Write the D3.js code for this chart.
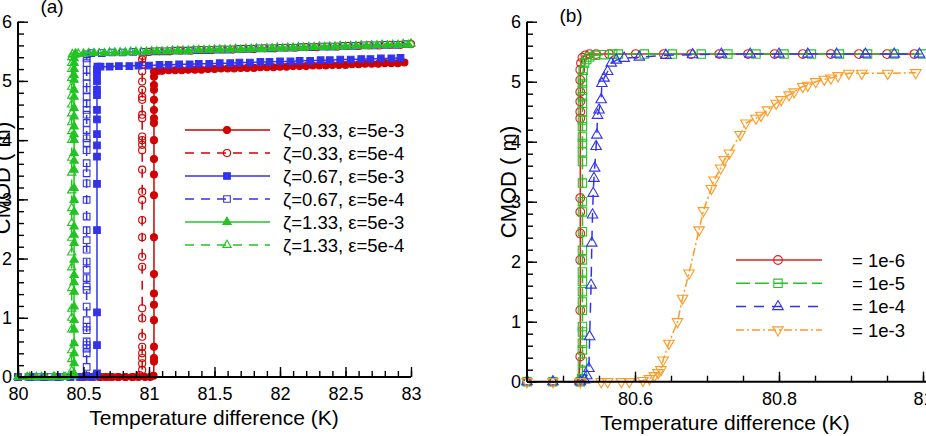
<!DOCTYPE html>
<html>
<head>
<meta charset="utf-8">
<script src="https://d3js.org/d3.v7.min.js"></script>
<style>
  body { margin: 0; background: #fff; }
  svg { display: block; }
  text { font-family: "Liberation Sans", Arial, sans-serif; fill: #000; }
</style>
</head>
<body>
<div id="chart"></div>
<script>
// - - Panel (a) data: flat part, jump (x, y list), upper branch - -
const a1Flat = [[80,0],[80.1,0],[80.2,0],[80.3,0],[80.4,0],[80.5,0],[80.56,0],[80.62,0],[80.67,0],[80.72,0],[80.77,0],[80.82,0],[80.87,0],[80.92,0],[80.97,0],[81.01,0],[81.035,0.02]];
const a1JumpX = 81.038;
const a1JumpY = [0.26,0.32,0.51,0.96,1.22,1.41,1.74,2.36,3.07,3.42,3.68,4.0,4.29,4.37,4.51,4.68,4.85,4.93,5.07,5.16];
const a1Top = [[81.07,5.17],[81.1,5.17],[81.15,5.18],[81.2,5.18],[81.25,5.18],[81.3,5.19],[81.35,5.19],[81.4,5.19],[81.45,5.2],[81.5,5.2],[81.55,5.21],[81.6,5.21],[81.65,5.21],[81.7,5.22],[81.75,5.22],[81.8,5.22],[81.85,5.23],[81.9,5.23],[81.95,5.23],[82.0,5.24],[82.05,5.24],[82.1,5.25],[82.15,5.25],[82.2,5.25],[82.25,5.26],[82.3,5.26],[82.35,5.26],[82.4,5.27],[82.45,5.27],[82.5,5.27],[82.55,5.28],[82.6,5.28],[82.65,5.29],[82.7,5.29],[82.75,5.29],[82.8,5.3],[82.85,5.3],[82.9,5.3],[82.95,5.31]];

const a2Flat = [[80,0],[80.1,0],[80.2,0],[80.3,0],[80.4,0],[80.5,0],[80.58,0],[80.64,0],[80.7,0],[80.76,0],[80.82,0],[80.88,0],[80.93,0.03]];
const a2JumpX = 80.948;
const a2JumpY = [0.12,0.23,0.32,0.4,0.51,0.68,0.99,1.16,1.86,2.03,2.36,2.65,2.99,3.13,3.5,3.83,3.92,4.0,4.06,4.37,4.43,4.68,4.73,4.85,4.99,5.16,5.27,5.36];
const a2Top = [[80.952,5.42],[81.0,5.49],[81.08,5.5],[81.16,5.5],[81.24,5.51],[81.32,5.51],[81.4,5.52],[81.48,5.52],[81.56,5.53],[81.64,5.53],[81.72,5.54],[81.8,5.54],[81.88,5.55],[81.96,5.55],[82.04,5.56],[82.12,5.56],[82.2,5.57],[82.28,5.57],[82.36,5.58],[82.44,5.58],[82.52,5.59],[82.6,5.59],[82.68,5.6],[82.76,5.6],[82.84,5.61],[82.92,5.61],[83.0,5.62]];

const a3Flat = [[80,0],[80.1,0],[80.2,0],[80.3,0],[80.4,0],[80.48,0],[80.55,0],[80.598,0.02]];
const a3JumpX = 80.603;
const a3JumpY = [0.06,0.54,1.09,2.48,3.26,3.72,3.91,4.1,4.35,4.51,4.76,4.85,4.99,5.1,5.19];
const a3Top = [[80.606,5.24],[80.63,5.24],[80.7,5.24],[80.77,5.25],[80.85,5.25],[80.92,5.26],[81.0,5.26],[81.08,5.27],[81.15,5.27],[81.23,5.28],[81.31,5.28],[81.38,5.29],[81.46,5.29],[81.54,5.3],[81.62,5.3],[81.69,5.31],[81.77,5.31],[81.85,5.32],[81.92,5.32],[82.0,5.33],[82.08,5.33],[82.15,5.34],[82.23,5.34],[82.31,5.35],[82.38,5.35],[82.46,5.36],[82.54,5.36],[82.62,5.37],[82.69,5.37],[82.77,5.38],[82.85,5.38],[82.92,5.39]];

const a4Flat = [[80,0],[80.08,0],[80.16,0],[80.24,0],[80.32,0],[80.4,0],[80.47,0],[80.52,0.02]];
const a4JumpX = 80.524;
const a4JumpY = [0.17,0.4,0.48,0.54,0.6,0.79,0.85,0.96,1.19,1.47,1.53,1.67,1.81,1.95,2.15,2.31,2.48,2.71,2.99,3.27,3.44,3.61,3.83,3.95,4.03,4.17,4.29,4.43,4.51,4.62,4.73,4.85,4.96,5.07,5.19,5.3,5.38];
const a4Top = [[80.526,5.45],[80.56,5.47],[80.64,5.47],[80.72,5.48],[80.8,5.48],[80.88,5.49],[80.96,5.49],[81.04,5.5],[81.12,5.5],[81.2,5.51],[81.28,5.51],[81.36,5.52],[81.44,5.52],[81.52,5.53],[81.6,5.53],[81.68,5.54],[81.76,5.54],[81.84,5.55],[81.92,5.55],[82.0,5.56],[82.08,5.56],[82.16,5.57],[82.24,5.57],[82.32,5.58],[82.4,5.58],[82.48,5.59],[82.56,5.59],[82.64,5.6],[82.72,5.6],[82.8,5.61],[82.88,5.61],[82.96,5.62]];

const a5Flat = [[80,0],[80.07,0],[80.14,0],[80.21,0],[80.28,0],[80.35,0],[80.42,0.02]];
const a5JumpX = 80.428;
const a5JumpY = [0.06,0.23,0.4,0.57,0.8,0.96,1.19,1.44,1.6,1.72,1.98,2.26,2.4,2.54,2.79,2.99,3.19,3.5,3.65,3.78,4.0,4.1,4.23,4.4,4.54,4.73,4.85,5.02,5.1,5.2,5.3,5.38];
const a5Top = [[80.432,5.44],[80.44,5.46],[80.5,5.46],[80.58,5.47],[80.66,5.47],[80.74,5.48],[80.82,5.48],[80.9,5.49],[80.98,5.49],[81.06,5.5],[81.14,5.5],[81.22,5.51],[81.3,5.51],[81.38,5.52],[81.46,5.52],[81.54,5.53],[81.62,5.53],[81.7,5.53],[81.78,5.54],[81.86,5.54],[81.94,5.55],[82.02,5.55],[82.1,5.56],[82.18,5.56],[82.26,5.57],[82.34,5.57],[82.42,5.58],[82.5,5.58],[82.58,5.59],[82.66,5.59],[82.74,5.6],[82.82,5.6],[82.9,5.61],[82.98,5.61]];

const a6Flat = [[80,0],[80.09,0],[80.18,0],[80.27,0],[80.36,0],[80.405,0.03]];
const a6JumpX = 80.41;
const a6JumpY = [0.1,0.3,0.45,0.8,1.0,1.15,1.5,1.85,2.1,2.35,2.6,2.85,3.15,3.45,3.7,4.0,4.15,4.3,4.45,4.6,4.75,4.9,5.05,5.2,5.3,5.4];
const a6Top = [[80.415,5.45],[80.46,5.46],[80.54,5.47],[80.62,5.47],[80.7,5.48],[80.78,5.48],[80.86,5.49],[80.94,5.49],[81.02,5.5],[81.1,5.5],[81.18,5.51],[81.26,5.51],[81.34,5.52],[81.42,5.52],[81.5,5.53],[81.58,5.53],[81.66,5.54],[81.74,5.54],[81.82,5.55],[81.9,5.55],[81.98,5.56],[82.06,5.56],[82.14,5.57],[82.22,5.57],[82.3,5.58],[82.38,5.58],[82.46,5.59],[82.54,5.59],[82.62,5.6],[82.7,5.6],[82.78,5.61],[82.86,5.61],[82.94,5.62],[83.0,5.63]];

const labelsA = ["ζ=0.33, ε=5e-3", "ζ=0.33, ε=5e-4", "ζ=0.67, ε=5e-3", "ζ=0.67, ε=5e-4", "ζ=1.33, ε=5e-3", "ζ=1.33, ε=5e-4"];
const xTicksA = [80, 80.5, 81, 81.5, 82, 82.5, 83];

// - - Panel (b) data - -
const b1 = [[80.45,0],[80.486,0],[80.522,0],[80.524,0.42],[80.524,1.19],[80.524,2.03],[80.524,2.47],[80.524,2.83],[80.524,3.06],[80.524,4.39],[80.524,4.5],[80.524,4.67],[80.524,4.83],[80.524,5.03],[80.524,5.2],[80.525,5.31],[80.527,5.4],[80.531,5.44],[80.537,5.46],[80.546,5.46],[80.564,5.46],[80.601,5.46],[80.64,5.46],[80.678,5.46],[80.717,5.46],[80.757,5.46],[80.794,5.46],[80.833,5.46],[80.872,5.46],[80.911,5.46],[80.95,5.46],[80.988,5.46]];
const b2 = [[80.45,0],[80.486,0],[80.524,0],[80.526,0.05],[80.527,0.17],[80.527,0.33],[80.527,0.53],[80.527,0.64],[80.527,0.83],[80.527,0.92],[80.527,1.19],[80.527,1.33],[80.527,1.5],[80.527,1.67],[80.527,1.83],[80.527,2.03],[80.527,2.19],[80.527,2.5],[80.527,2.83],[80.527,3.0],[80.527,3.31],[80.527,3.67],[80.527,3.83],[80.527,3.97],[80.527,4.08],[80.527,4.25],[80.527,4.36],[80.527,4.5],[80.527,4.64],[80.527,4.75],[80.527,4.86],[80.527,4.97],[80.527,5.08],[80.528,5.19],[80.53,5.31],[80.533,5.37],[80.537,5.41],[80.545,5.44],[80.557,5.45],[80.569,5.46],[80.577,5.46],[80.613,5.46],[80.652,5.46],[80.692,5.46],[80.729,5.46],[80.768,5.46],[80.807,5.46],[80.845,5.46],[80.884,5.46],[80.923,5.46],[80.96,5.46],[80.999,5.46]];
const b3 = [[80.45,0],[80.486,0],[80.524,0],[80.53,0.03],[80.533,0.1],[80.536,0.22],[80.537,0.75],[80.539,1.61],[80.54,2.31],[80.541,2.78],[80.542,3.14],[80.543,3.39],[80.544,3.56],[80.546,3.92],[80.547,4.11],[80.548,4.44],[80.55,4.53],[80.553,4.7],[80.554,4.97],[80.557,5.06],[80.562,5.17],[80.567,5.31],[80.574,5.36],[80.585,5.39],[80.606,5.41],[80.643,5.44],[80.68,5.45],[80.72,5.46],[80.76,5.46],[80.8,5.46],[80.84,5.46],[80.88,5.46],[80.92,5.46],[80.96,5.46],[80.995,5.46]];
const b4 = [[80.45,0],[80.486,0],[80.524,0],[80.553,0],[80.562,0],[80.581,0],[80.592,0],[80.611,0.02],[80.62,0.05],[80.627,0.1],[80.632,0.15],[80.636,0.2],[80.639,0.36],[80.647,0.64],[80.659,1.0],[80.666,1.39],[80.675,1.81],[80.689,2.53],[80.695,2.85],[80.706,3.22],[80.71,3.36],[80.719,3.56],[80.724,3.7],[80.731,3.81],[80.746,4.12],[80.754,4.31],[80.768,4.39],[80.775,4.44],[80.784,4.53],[80.796,4.64],[80.803,4.7],[80.814,4.78],[80.821,4.83],[80.833,4.92],[80.84,4.94],[80.851,5.0],[80.863,5.04],[80.872,5.06],[80.882,5.1],[80.897,5.14],[80.915,5.14],[80.951,5.14],[80.99,5.15]];

const labelsB = ["= 1e-6", "= 1e-5", "= 1e-4", "= 1e-3"];
const xTicksB = [80.6, 80.8, 81];
const yTicks = [0, 1, 2, 3, 4, 5, 6];

// - - Helpers - -
const join = (flat, jx, jy, top) => flat.concat(jy.map(y => [jx, y]), top);

const RED = "#d00000", BLUE = "#3333ee", GREEN = "#22c422", ORANGE = "#ff9a22";

const seriesA = [
    { pts: join(a1Flat, a1JumpX, a1JumpY, a1Top), color: RED, dash: null, shape: "circle", size: 38, filled: true },
    { pts: join(a2Flat, a2JumpX, a2JumpY, a2Top), color: RED, dash: "9,7", shape: "circle", size: 40, filled: false },
    { pts: join(a3Flat, a3JumpX, a3JumpY, a3Top), color: BLUE, dash: null, shape: "square", size: 44, filled: true },
    { pts: join(a4Flat, a4JumpX, a4JumpY, a4Top), color: BLUE, dash: "9,7", shape: "square", size: 44, filled: false },
    { pts: join(a5Flat, a5JumpX, a5JumpY, a5Top), color: GREEN, dash: null, shape: "triangle", size: 30, filled: true },
    { pts: join(a6Flat, a6JumpX, a6JumpY, a6Top), color: GREEN, dash: "9,7", shape: "triangle", size: 30, filled: false }
];

const seriesB = [
    { pts: b1, color: "#dd2222", dash: null, shape: "circle", size: 60, filled: false },
    { pts: b2, color: GREEN, dash: "14,5", shape: "square", size: 70, filled: false },
    { pts: b3, color: BLUE, dash: "10,8", shape: "triangle", size: 48, filled: false },
    { pts: b4, color: ORANGE, dash: "8,3,2,3", shape: "down", size: 48, filled: false }
];

const symbols = { circle: d3.symbolCircle, square: d3.symbolSquare, triangle: d3.symbolTriangle, down: d3.symbolTriangle };

function marker(g, s, x, y) {
    g.append("path")
        .attr("d", d3.symbol(symbols[s.shape], s.size)())
        .attr("transform", `translate(${x},${y})` + (s.shape === "down" ? " rotate(180)" : ""))
        .attr("fill", s.filled ? s.color : "none")
        .attr("stroke", s.color)
        .attr("stroke-width", 1.1);
}

function drawSeries(g, x, y, list) {
    const line = d3.line().x(d => x(d[0])).y(d => y(d[1]));
    list.forEach(s => {
        g.append("path")
            .attr("d", line(s.pts))
            .attr("fill", "none")
            .attr("stroke", s.color)
            .attr("stroke-width", 1.5)
            .attr("stroke-dasharray", s.dash);
        s.pts.forEach(d => marker(g, s, x(d[0]), y(d[1])));
    });
}

function drawAxes(g, x, y, xTicks, xMinor, xEnd, xPad) {
    // minor ticks
    g.append("g").attr("transform", `translate(0,${y(0)})`)
        .call(d3.axisBottom(x).tickValues(xMinor).tickSize(-6).tickSizeOuter(0).tickFormat(""));
    g.append("g").attr("transform", `translate(${x.range()[0]},0)`)
        .call(d3.axisLeft(y).tickValues(y.ticks(30)).tickSize(-6).tickSizeOuter(0).tickFormat(""));
    // major ticks
    g.append("g").attr("transform", `translate(0,${y(0)})`)
        .call(d3.axisBottom(x).tickValues(xTicks).tickSize(-10).tickSizeOuter(0).tickPadding(xPad).tickFormat(d3.format("~g")));
    g.append("g").attr("transform", `translate(${x.range()[0]},0)`)
        .call(d3.axisLeft(y).tickValues(yTicks).tickSize(-10).tickSizeOuter(0).tickPadding(6).tickFormat(d3.format("d")));

    g.selectAll(".domain").remove();
    g.selectAll(".tick line").attr("stroke", "#000").attr("stroke-width", 1.4);
    g.selectAll(".tick text").style("font-size", "18px").attr("fill", "#000");

    // axis spines
    g.append("line").attr("x1", x.range()[0]).attr("x2", xEnd)
        .attr("y1", y(0)).attr("y2", y(0)).attr("stroke", "#000").attr("stroke-width", 2);
    g.append("line").attr("x1", x.range()[0]).attr("x2", x.range()[0])
        .attr("y1", y(0)).attr("y2", y(6)).attr("stroke", "#000").attr("stroke-width", 2);
}

function drawLegend(g, list, labels, x0, x1, xm, xt, y0, dy) {
    list.forEach((s, i) => {
        const yy = y0 + i * dy;
        g.append("line").attr("x1", x0).attr("x2", x1).attr("y1", yy).attr("y2", yy)
            .attr("stroke", s.color).attr("stroke-width", 1.5).attr("stroke-dasharray", s.dash);
        marker(g, s, xm, yy);
        g.append("text").attr("x", xt).attr("y", yy).attr("dy", "0.36em")
            .style("font-size", "18.5px").text(labels[i]);
    });
}

// - - Main - -
const svg = d3.select("#chart").append("svg").attr("width", 926).attr("height", 436);

// Panel (a)
const xA = d3.scaleLinear().domain([80, 83]).range([18, 411]);
const yA = d3.scaleLinear().domain([0, 6]).range([377, 21.7]);
const gA = svg.append("g");
drawSeries(gA, xA, yA, seriesA);
drawAxes(gA, xA, yA, xTicksA, xA.ticks(30), 411, 10);
drawLegend(gA, seriesA, labelsA, 185, 270, 227, 283, 130, 23);

gA.append("text").attr("x", 214).attr("y", 425).attr("text-anchor", "middle")
    .style("font-size", "21px").text("Temperature difference (K)");
gA.append("text").attr("transform", "translate(10,178) rotate(-90)").attr("text-anchor", "middle")
    .style("font-size", "22px").text("CMOD ( m)");
gA.append("text").attr("x", 52).attr("y", 13).attr("text-anchor", "middle")
    .style("font-size", "19px").text("(a)");

// Panel (b)
const xB = d3.scaleLinear().domain([80.45, 81]).range([527, 923]);
const yB = d3.scaleLinear().domain([0, 6]).range([381.7, 21.7]);
const gB = svg.append("g");
drawSeries(gB, xB, yB, seriesB);
drawAxes(gB, xB, yB, xTicksB, xB.ticks(11), 926, 11);
drawLegend(gB, seriesB, labelsB, 736, 822, 778, 852, 260, 23.3);

gB.append("text").attr("x", 725).attr("y", 430).attr("text-anchor", "middle")
    .style("font-size", "21px").text("Temperature difference (K)");
gB.append("text").attr("transform", "translate(516,182) rotate(-90)").attr("text-anchor", "middle")
    .style("font-size", "22px").text("CMOD ( m)");
gB.append("text").attr("x", 571).attr("y", 22).attr("text-anchor", "middle")
    .style("font-size", "19px").text("(b)");
</script>
</body>
</html>
